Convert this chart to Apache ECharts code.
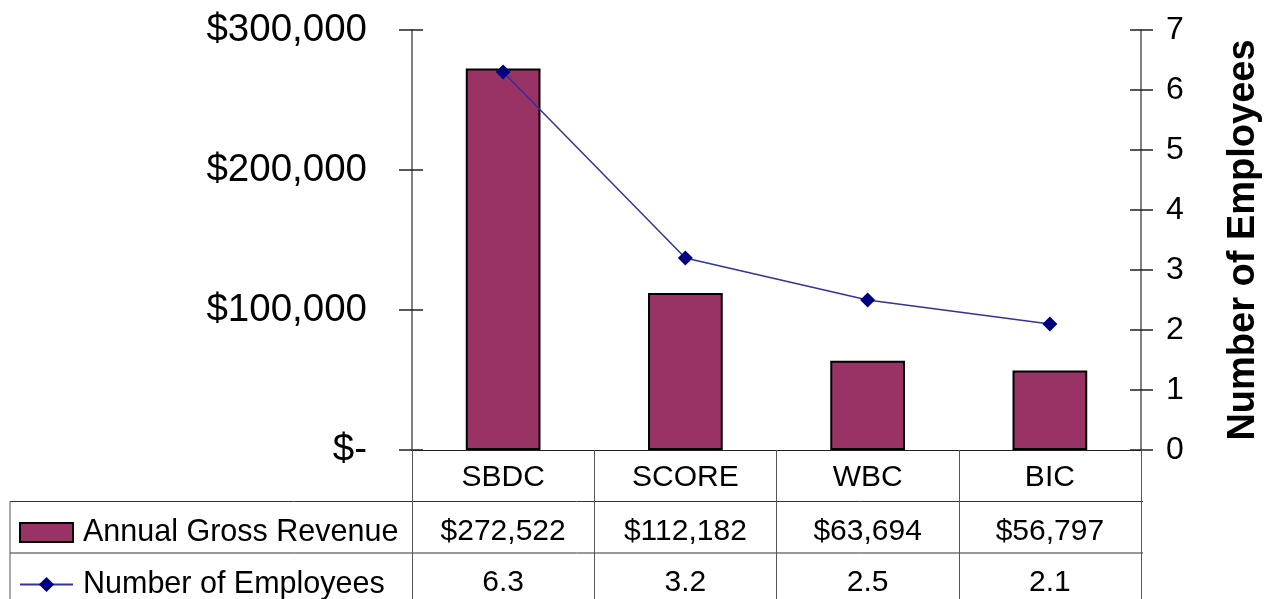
<!DOCTYPE html>
<html>
<head>
<meta charset="utf-8">
<script src="https://cdn.jsdelivr.net/npm/echarts@6/dist/echarts.min.js"></script>
<style>
html,body{margin:0;padding:0;background:#fff;overflow:hidden;}
#main{width:1271px;height:599px;}
</style>
</head>
<body>
<div id="main"></div>
<script>
// ---- data ----
const categories = ['SBDC', 'SCORE', 'WBC', 'BIC'];
const revenue = [272522, 112182, 63694, 56797];
const employees = [6.3, 3.2, 2.5, 2.1];
const revenueName = 'Annual Gross Revenue';
const employeesName = 'Number of Employees';
const revenueTicks = { min: 0, max: 300000, interval: 100000 };
const employeeTicks = { min: 0, max: 7, interval: 1 };

// ---- layout ----
const G = { left: 412, right: 1143, top: 30, bottom: 450 };
const rowH = 51.5;
const tableLeft = 10;
const FONT = '"Liberation Sans", Arial, sans-serif';

const fmtMoney = v => v === 0 ? '$-' : '$' + v.toLocaleString('en-US');

const chart = echarts.init(document.getElementById('main'), null, { renderer: 'canvas', width: 1271, height: 599 });
const W = chart.getWidth(), H = chart.getHeight();

const tickColor = '#222';
const axisGray = '#808080';

const tableLabel = (fs, m) => ({ fontSize: fs, fontFamily: FONT, color: '#000', margin: m, interval: 0 });

chart.setOption({
  animation: false,
  backgroundColor: '#fff',
  grid: { left: G.left, right: W - G.right, top: G.top, bottom: H - G.bottom, containLabel: false },
  legend: {
    orient: 'vertical',
    left: 19, top: 517, height: 200, padding: 0,
    itemWidth: 53, itemHeight: 19, itemGap: 21,
    textStyle: { fontSize: 30.5, fontFamily: FONT, color: '#000', lineHeight: 30, padding: [0, 0, 0, 5] },
    data: [{ name: revenueName, icon: 'rect' }, { name: employeesName }]
  },
  xAxis: [
    {
      type: 'category', data: categories, position: 'bottom',
      axisLine: { show: true, lineStyle: { color: tickColor, width: 1 } },
      axisTick: { show: true, length: 160, interval: 0, lineStyle: { color: '#555', width: 1 } },
      axisLabel: tableLabel(30, 13)
    },
    {
      type: 'category', data: revenue.map(fmtMoney), position: 'bottom', offset: rowH,
      axisLine: { show: false }, axisTick: { show: false },
      axisLabel: tableLabel(30, 15)
    },
    {
      type: 'category', data: employees.map(v => v.toFixed(1)), position: 'bottom', offset: rowH * 2,
      axisLine: { show: false }, axisTick: { show: false },
      axisLabel: tableLabel(30, 15)
    }
  ],
  yAxis: [
    {
      type: 'value', position: 'left', ...revenueTicks,
      axisLine: { show: true, lineStyle: { color: axisGray, width: 2 } },
      axisTick: { show: true, inside: false, length: 13, lineStyle: { color: tickColor, width: 1.5 } },
      axisLabel: { fontSize: 38.5, fontFamily: FONT, color: '#000', margin: 45, formatter: fmtMoney },
      splitLine: { show: false }
    },
    {
      type: 'value', position: 'right', ...employeeTicks,
      name: employeesName, nameLocation: 'middle', nameRotate: 90, nameGap: 84,
      nameTextStyle: { fontSize: 38, fontWeight: 'bold', fontFamily: FONT, color: '#000' },
      axisLine: { show: true, lineStyle: { color: axisGray, width: 2 } },
      axisTick: { show: true, inside: false, length: 12, lineStyle: { color: tickColor, width: 1.5 } },
      axisLabel: { fontSize: 32, fontFamily: FONT, color: '#000', margin: 25 },
      splitLine: { show: false }
    },
    {
      type: 'value', position: 'left', ...revenueTicks,
      axisLine: { show: false },
      axisTick: { show: true, inside: true, length: 11, lineStyle: { color: tickColor, width: 1.5 } },
      axisLabel: { show: false }, splitLine: { show: false }
    },
    {
      type: 'value', position: 'right', ...employeeTicks,
      axisLine: { show: false },
      axisTick: { show: true, inside: true, length: 11, lineStyle: { color: tickColor, width: 1.5 } },
      axisLabel: { show: false }, splitLine: { show: false }
    }
  ],
  graphic: [
    { type: 'line', shape: { x1: tableLeft, y1: G.bottom + rowH, x2: G.right, y2: G.bottom + rowH }, style: { stroke: '#333', lineWidth: 1 }, silent: true },
    { type: 'line', shape: { x1: tableLeft, y1: G.bottom + rowH * 2, x2: G.right, y2: G.bottom + rowH * 2 }, style: { stroke: '#333', lineWidth: 1 }, silent: true },
    { type: 'line', shape: { x1: tableLeft, y1: G.bottom + rowH, x2: tableLeft, y2: H + 5 }, style: { stroke: '#555', lineWidth: 1 }, silent: true }
  ],
  series: [
    {
      name: revenueName, type: 'bar', data: revenue, xAxisIndex: 0, yAxisIndex: 0,
      barWidth: '41%',
      itemStyle: { color: '#993366', borderColor: '#000', borderWidth: 2 }
    },
    {
      name: employeesName, type: 'line', data: employees, xAxisIndex: 0, yAxisIndex: 1,
      symbol: 'diamond', symbolSize: 15,
      lineStyle: { color: '#333399', width: 1.5 },
      itemStyle: { color: '#000080' }
    }
  ]
});
</script>
</body>
</html>
